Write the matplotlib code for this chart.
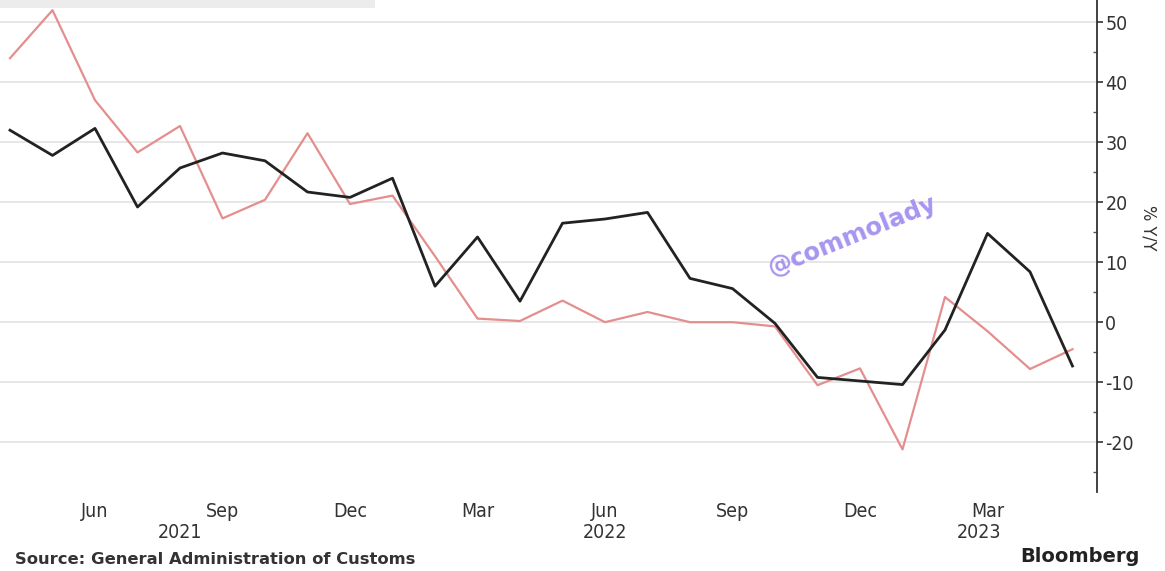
import matplotlib
matplotlib.use("Agg")
import matplotlib.pyplot as plt
from matplotlib.ticker import MultipleLocator, FixedLocator
import matplotlib.transforms as mtransforms
from matplotlib.font_manager import FontProperties

# Monthly data, Apr 2021 .. May 2023
months = ["Apr", "May", "Jun", "Jul", "Aug", "Sep", "Oct", "Nov", "Dec",
          "Jan", "Feb", "Mar", "Apr", "May", "Jun", "Jul", "Aug", "Sep", "Oct", "Nov", "Dec",
          "Jan", "Feb", "Mar", "Apr", "May"]
black_series = [32.0, 27.8, 32.3, 19.2, 25.7, 28.2, 26.9, 21.7, 20.8,
                24.0, 6.0, 14.2, 3.5, 16.5, 17.2, 18.3, 7.3, 5.6, -0.2, -9.2, -9.8,
                -10.4, -1.3, 14.8, 8.4, -7.3]
red_series = [44.0, 52.0, 37.0, 28.3, 32.7, 17.3, 20.4, 31.5, 19.7,
              21.1, 11.0, 0.6, 0.2, 3.6, 0.0, 1.7, 0.0, 0.0, -0.7, -10.5, -7.7,
              -21.2, 4.2, -1.5, -7.8, -4.5]
tick_labels = ["Jun", "Sep", "Dec", "Mar", "Jun", "Sep", "Dec", "Mar"]
tick_months = [2, 5, 8, 11, 14, 17, 20, 23]
year_labels = ["2021", "2022", "2023"]
year_positions = [4, 14, 22.8]
y_ticks = [50, 40, 30, 20, 10, 0, -10, -20]

W, H = 1165, 571
fig = plt.figure(figsize=(W / 100, H / 100), dpi=100)
fig.patch.set_facecolor("white")

tick_font = FontProperties(family="DejaVu Sans", stretch="condensed", size=14)

px_month = 42.5
x0_px = 10.0
right_px = 1097.0
bottom_px = 492.0
ax = fig.add_axes([0.0, 1 - bottom_px / H, right_px / W, bottom_px / H])
ax.set_xlim((0 - x0_px) / px_month, (right_px - x0_px) / px_month)
ax.set_ylim(-28.3, 53.7)

x = list(range(len(months)))
ax.plot(x, red_series, color="#e48e8e", lw=1.6, zorder=3)
ax.plot(x, black_series, color="#222222", lw=2.0, zorder=4)

for s in ["top", "left", "bottom"]:
    ax.spines[s].set_visible(False)
ax.spines["right"].set_color("#333333")
ax.spines["right"].set_linewidth(1.3)

ax.yaxis.tick_right()
ax.yaxis.set_major_locator(FixedLocator(y_ticks))
ax.yaxis.set_minor_locator(MultipleLocator(5))
ax.set_yticklabels([str(v) for v in y_ticks])
ax.tick_params(axis="y", which="major", direction="out", length=4, width=1.2,
               color="#333333", labelcolor="#333333", pad=2)
ax.tick_params(axis="y", which="minor", direction="in", length=3, width=1.0, color="#555555")
for lab in ax.get_yticklabels():
    lab.set_fontproperties(tick_font)
ax.grid(axis="y", which="major", color="#e3e3e3", lw=1.2, zorder=0)

ax.set_xticks(tick_months)
ax.set_xticklabels(tick_labels)
ax.tick_params(axis="x", length=0, labelcolor="#333333", pad=7)
for lab in ax.get_xticklabels():
    lab.set_fontproperties(tick_font)

trans = mtransforms.blended_transform_factory(ax.transData, fig.transFigure)
for lbl, pos in zip(year_labels, year_positions):
    ax.text(pos, 1 - 533 / H, lbl, transform=trans, ha="center", va="center",
            color="#333333", fontproperties=tick_font)

fig.text(1148 / W, 1 - 228 / H, "% Y/Y", rotation=270, ha="center", va="center",
         color="#333333", fontproperties=FontProperties(family="DejaVu Sans", stretch="condensed", size=13))

# watermark
fig.text(852 / W, 1 - 236 / H, "@commolady", rotation=22, ha="center", va="center",
         fontsize=17.5, color="#a28ff0", alpha=0.95, family="DejaVu Sans", fontweight="bold")

fig.text(15 / W, 1 - 560 / H, "Source: General Administration of Customs", ha="left",
         va="center", fontsize=11.8, fontweight="bold", color="#333333", family="DejaVu Sans")
fig.text(1140 / W, 1 - 557 / H, "Bloomberg", ha="right", va="center", fontsize=14,
         fontweight="bold", color="#222222", family="DejaVu Sans")

# faint header strip at top-left
fig.patches.append(matplotlib.patches.Rectangle((0, 1 - 8 / H), 375 / W, 8 / H,
                   transform=fig.transFigure, facecolor="#ececec", edgecolor="none", zorder=0))

fig.savefig("out.png", dpi=100, facecolor="white")
